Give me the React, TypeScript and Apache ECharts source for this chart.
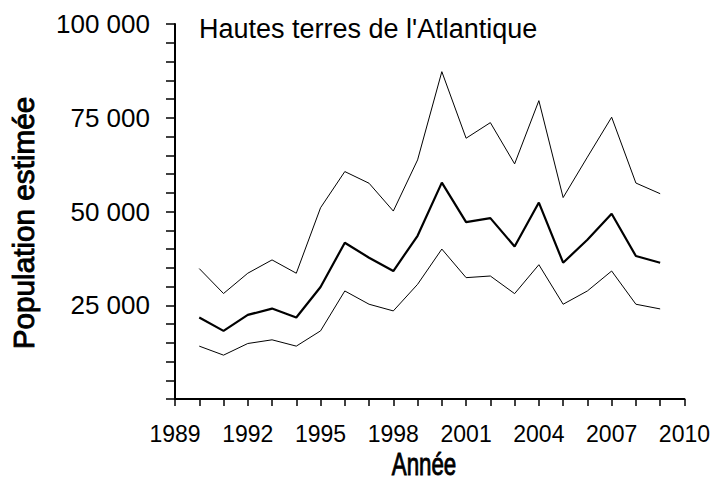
import React, { useEffect, useRef } from "react";
import * as echarts from "echarts";

const years = [1990, 1991, 1992, 1993, 1994, 1995, 1996, 1997, 1998, 1999, 2000, 2001, 2002, 2003, 2004, 2005, 2006, 2007, 2008, 2009];
const upper = [34780, 28130, 33540, 37090, 33540, 51000, 60650, 57530, 50120, 63760, 87290, 69540, 73700, 62700, 79560, 53720, 64500, 75150, 57590, 54750];
const mean = [21720, 18170, 22430, 24110, 21720, 29875, 41665, 37680, 34130, 43530, 57710, 47160, 48230, 40660, 52390, 36350, 42460, 49380, 38120, 36350];
const lower = [14100, 11700, 14800, 15780, 14100, 18170, 28810, 25270, 23490, 30580, 39980, 32360, 32800, 28100, 35810, 25270, 28810, 34130, 25270, 24020];
const xLabelYears = [1989, 1992, 1995, 1998, 2001, 2004, 2007, 2010];
const yLabelValues = [25000, 50000, 75000, 100000];
const title = "Hautes terres de l'Atlantique";
const yName = "Population estimée";
const xName = "Année";

const fmt = (v: number) => {
  const s = String(v);
  return s.replace(/\B(?=(\d{3})+(?!\d))/g, " ");
};

export default function App() {
  const ref = useRef<HTMLDivElement>(null);
  useEffect(() => {
    if (!ref.current) return;
    const chart = echarts.init(ref.current, undefined, { renderer: "svg" });
    const font = "'Liberation Sans', Arial, sans-serif";
    const mk = (data: number[], w: number) => ({
      type: "line",
      data: years.map((y, i) => [y, data[i]]),
      symbol: "none",
      lineStyle: { color: "#000", width: w },
      silent: true,
    });
    chart.setOption({
      animation: false,
      backgroundColor: "#fff",
      grid: { left: 175, top: 24, right: 28, bottom: 92, containLabel: false },
      xAxis: {
        type: "value",
        min: 1989,
        max: 2010,
        interval: 1,
        splitLine: { show: false },
        axisLine: { show: true, lineStyle: { color: "#000", width: 2 } },
        axisTick: { show: true, length: 7, lineStyle: { color: "#000", width: 1.5 } },
        axisLabel: {
          margin: 23,
          color: "#000",
          fontFamily: font,
          fontSize: 23,
          formatter: (v: number) => (xLabelYears.includes(v) ? String(v) : ""),
        },
      },
      yAxis: {
        type: "value",
        min: 0,
        max: 100000,
        interval: 5000,
        splitLine: { show: false },
        axisLine: { show: true, lineStyle: { color: "#000", width: 2 } },
        axisTick: { show: true, length: 9, lineStyle: { color: "#000", width: 1.5 } },
        axisLabel: {
          margin: 25,
          color: "#000",
          fontFamily: font,
          fontSize: 26,
          formatter: (v: number) => (yLabelValues.includes(v) ? fmt(v) : ""),
        },
      },
      graphic: [
        {
          type: "text",
          x: 199,
          y: 29,
          style: { text: title, fill: "#000", font: `27px ${font}`, textAlign: "left", textVerticalAlign: "middle" },
        },
        {
          type: "text",
          x: 23,
          y: 223,
          rotation: Math.PI / 2,
          scaleX: 0.99,
          scaleY: 1.0,
          style: { text: yName, fill: "#000", stroke: "#000", lineWidth: 0.9, font: `30px ${font}`, textAlign: "center", textVerticalAlign: "middle" },
        },
        {
          type: "text",
          x: 424,
          y: 465,
          scaleX: 0.72,
          scaleY: 1.0,
          style: { text: xName, fill: "#000", stroke: "#000", lineWidth: 0.9, font: `31px ${font}`, textAlign: "center", textVerticalAlign: "middle" },
        },
      ],
      series: [mk(upper, 1), mk(mean, 2.2), mk(lower, 1)],
    });
    return () => chart.dispose();
  }, []);
  return <div ref={ref} style={{ position: "fixed", left: 0, top: 0, width: 713, height: 491 }} />;
}
